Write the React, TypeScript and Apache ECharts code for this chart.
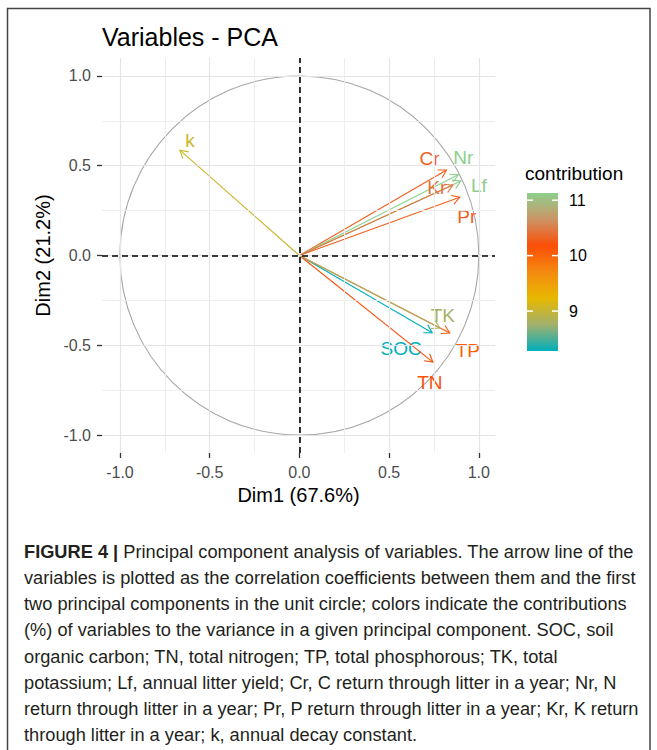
import React, { useEffect, useRef } from "react";
import * as echarts from "echarts";

// ---------- data ----------
const variables = ["SOC", "TN", "TP", "TK", "Lf", "Cr", "Nr", "Pr", "Kr", "k"];
const dim1 = [0.74, 0.744, 0.838, 0.783, 0.9, 0.82, 0.885, 0.894, 0.855, -0.666];
const dim2 = [-0.43, -0.594, -0.432, -0.404, 0.415, 0.476, 0.45, 0.325, 0.392, 0.587];
const contribution = [8.28, 10.2, 10.05, 8.8, 11.1, 10.3, 11.13, 10.3, 10.45, 9.05];
const axisTickValues = [-1, -0.5, 0, 0.5, 1];
const minorGridValues = [-0.75, -0.25, 0.25, 0.75];
const legendTickValues = [9, 10, 11];
const contribMin = 8.28;
const contribMax = 11.13;
// gradient #00AFBB -> #E7B800 -> #FC4E07 -> green, with Lab-like midpoints
const gradientColors = ["#00AFBB", "#A2B06E", "#E7B800", "#F48A10", "#FC4E07", "#CC9466", "#8CD08C"];

const captionLines = [
  "{b|FIGURE 4 |} Principal component analysis of variables. The arrow line of the",
  "variables is plotted as the correlation coefficients between them and the first",
  "two principal components in the unit circle; colors indicate the contributions",
  "(%) of variables to the variance in a given principal component. SOC, soil",
  "organic carbon; TN, total nitrogen; TP, total phosphorous; TK, total",
  "potassium; Lf, annual litter yield; Cr, C return through litter in a year; Nr, N",
  "return through litter in a year; Pr, P return through litter in a year; Kr, K return",
  "through litter in a year; k, annual decay constant.",
];

// ---------- layout / style ----------
const FONT = '"Liberation Sans", Arial, sans-serif';
const labelOffset: Record<string, [number, number]> = {
  SOC: [-31, 16],
  TN: [-3, 20],
  TP: [18, 17],
  TK: [3, -13],
  Lf: [18, 5],
  Cr: [-17, -12],
  Nr: [5, -17],
  Pr: [7, 19],
  Kr: [-16, 2],
  k: [10, -10],
};
const legendX = 527;
const legendTop = 193;
const legendW = 31;
const legendH = 158;
const captionX = 24;
const captionY0 = 552;
const captionStep = 26.2;
const captionFontSize = 17.5;
const captionTargetWidth = 612;

function legendY(v: number) {
  return legendTop + ((contribMax - v) / (contribMax - contribMin)) * legendH;
}

function captionScale(): number {
  try {
    const ctx = document.createElement("canvas").getContext("2d");
    if (!ctx) return 0.9;
    ctx.font = `${captionFontSize}px "Liberation Sans"`;
    const w = ctx.measureText(captionLines[1]).width;
    return captionTargetWidth / w;
  } catch (e) {
    return 0.9;
  }
}

export default function App() {
  const ref = useRef<HTMLDivElement>(null);

  useEffect(() => {
    if (!ref.current) return;
    const chart = echarts.init(ref.current, undefined, { renderer: "svg" });

    const gridLines: any[] = [];
    axisTickValues.forEach((v) => {
      gridLines.push({ xAxis: v, lineStyle: { color: "#e4e4e4", width: 1.2, type: "solid" } });
      gridLines.push({ yAxis: v, lineStyle: { color: "#e4e4e4", width: 1.2, type: "solid" } });
    });
    minorGridValues.forEach((v) => {
      gridLines.push({ xAxis: v, lineStyle: { color: "#ececec", width: 0.9, type: "solid" } });
      gridLines.push({ yAxis: v, lineStyle: { color: "#ececec", width: 0.9, type: "solid" } });
    });

    const arrowData = variables.map((n, i) => [dim1[i], dim2[i], contribution[i], i]);

    const sx = captionScale();
    const graphics: any[] = [
      {
        type: "rect",
        shape: { x: 7.5, y: 8.5, width: 642.5, height: 800 },
        style: { fill: "none", stroke: "#444", lineWidth: 1.5 },
        silent: true,
      },
      {
        type: "text",
        x: 525,
        y: 173,
        style: {
          text: "contribution",
          fill: "#000",
          fontSize: 19,
          fontFamily: FONT,
          verticalAlign: "middle",
          align: "left",
        },
      },
      {
        type: "rect",
        shape: { x: legendX, y: legendTop, width: legendW, height: legendH },
        style: {
          fill: {
            type: "linear",
            x: 0,
            y: 1,
            x2: 0,
            y2: 0,
            colorStops: gradientColors.map((c, i) => ({
              offset: i / (gradientColors.length - 1),
              color: c,
            })),
          },
        },
      },
    ];
    legendTickValues.forEach((v) => {
      const y = legendY(v);
      graphics.push({
        type: "line",
        shape: { x1: legendX, y1: y, x2: legendX + 6, y2: y },
        style: { stroke: "#fff", lineWidth: 1.5 },
      });
      graphics.push({
        type: "line",
        shape: { x1: legendX + legendW - 6, y1: y, x2: legendX + legendW, y2: y },
        style: { stroke: "#fff", lineWidth: 1.5 },
      });
      graphics.push({
        type: "text",
        x: legendX + legendW + 11,
        y: y,
        style: {
          text: String(v),
          fill: "#000",
          fontSize: 16,
          fontFamily: FONT,
          verticalAlign: "middle",
          align: "left",
        },
      });
    });
    captionLines.forEach((line, i) => {
      graphics.push({
        type: "text",
        x: captionX,
        y: captionY0 + i * captionStep,
        scaleX: sx,
        style: {
          text: line,
          fill: "#231f20",
          fontSize: captionFontSize,
          fontFamily: FONT,
          verticalAlign: "middle",
          align: "left",
          rich: {
            b: {
              fontWeight: "bold",
              fontSize: captionFontSize,
              fontFamily: FONT,
              fill: "#231f20",
            },
          },
        },
      });
    });

    const axisCommon = (name: string, gap: number) => ({
      type: "value",
      min: -1.1,
      max: 1.1,
      name,
      nameLocation: "middle",
      nameGap: gap,
      nameTextStyle: { fontSize: 20, color: "#000", fontFamily: FONT },
      splitLine: { show: false },
      axisLine: { show: false, onZero: false },
      axisTick: {
        show: true,
        customValues: axisTickValues,
        length: 5,
        lineStyle: { color: "#333", width: 1.3 },
      },
      axisLabel: {
        customValues: axisTickValues,
        formatter: (v: number) => v.toFixed(1),
        color: "#4d4d4d",
        fontSize: 16,
        fontFamily: FONT,
        margin: 11,
      },
    });

    const option: any = {
      animation: false,
      backgroundColor: "#ffffff",
      textStyle: { fontFamily: FONT },
      title: {
        text: "Variables - PCA",
        left: 97,
        top: 19,
        textStyle: { fontSize: 25, fontWeight: "normal", color: "#000", fontFamily: FONT },
      },
      grid: { left: 102, top: 58, width: 393, height: 395, outerBoundsMode: "none" },
      xAxis: { ...axisCommon("Dim1 (67.6%)", 32), max: 1.09 },
      yAxis: { ...axisCommon("Dim2 (21.2%)", 45), nameRotate: 90 },
      visualMap: {
        type: "continuous",
        show: false,
        min: contribMin,
        max: contribMax,
        dimension: 2,
        seriesIndex: 3,
        inRange: { color: gradientColors },
      },
      graphic: graphics,
      series: [
        {
          type: "line",
          z: 1,
          data: [[0, 0]],
          symbol: "none",
          lineStyle: { opacity: 0 },
          silent: true,
          markLine: {
            silent: true,
            symbol: ["none", "none"],
            label: { show: false },
            data: gridLines,
          },
        },
        {
          type: "line",
          z: 2,
          data: [[0, 0]],
          symbol: "none",
          lineStyle: { opacity: 0 },
          silent: true,
          markLine: {
            silent: true,
            symbol: ["none", "none"],
            label: { show: false },
            lineStyle: { color: "#000", width: 1.6, type: [6, 4] },
            data: [{ xAxis: 0 }, { yAxis: 0 }],
          },
        },
        {
          type: "custom",
          z: 3,
          silent: true,
          data: [[0, 0, 1]],
          renderItem: (params: any, api: any) => {
            const c = api.coord([api.value(0), api.value(1)]);
            const sz = api.size([api.value(2), api.value(2)]);
            return {
              type: "ellipse",
              shape: { cx: c[0], cy: c[1], rx: sz[0], ry: sz[1] },
              style: { fill: "none", stroke: "#a6a6a6", lineWidth: 1.1 },
            };
          },
        },
        {
          type: "custom",
          z: 4,
          silent: true,
          data: arrowData,
          encode: { x: 0, y: 1 },
          renderItem: (params: any, api: any) => {
            const idx = api.value(3);
            const name = variables[idx];
            const o = api.coord([0, 0]);
            const p = api.coord([api.value(0), api.value(1)]);
            const color = api.visual("color");
            const ang = Math.atan2(p[1] - o[1], p[0] - o[0]);
            const L = 9;
            const a = Math.PI / 6;
            const h1 = [p[0] - L * Math.cos(ang - a), p[1] - L * Math.sin(ang - a)];
            const h2 = [p[0] - L * Math.cos(ang + a), p[1] - L * Math.sin(ang + a)];
            const off = labelOffset[name] || [0, 0];
            return {
              type: "group",
              children: [
                {
                  type: "line",
                  shape: { x1: o[0], y1: o[1], x2: p[0], y2: p[1] },
                  style: { stroke: color, lineWidth: 1.1 },
                },
                {
                  type: "polyline",
                  shape: { points: [h1, p, h2] },
                  style: { stroke: color, fill: "none", lineWidth: 1.1 },
                },
                {
                  type: "text",
                  x: p[0] + off[0],
                  y: p[1] + off[1],
                  style: {
                    text: name,
                    fill: color,
                    fontSize: 19,
                    fontFamily: FONT,
                    align: "center",
                    verticalAlign: "middle",
                  },
                },
              ],
            };
          },
        },
      ],
    };

    chart.setOption(option);
    return () => {
      chart.dispose();
    };
  }, []);

  return (
    <div
      ref={ref}
      style={{ position: "absolute", left: 0, top: 0, width: 657, height: 750 }}
    />
  );
}
